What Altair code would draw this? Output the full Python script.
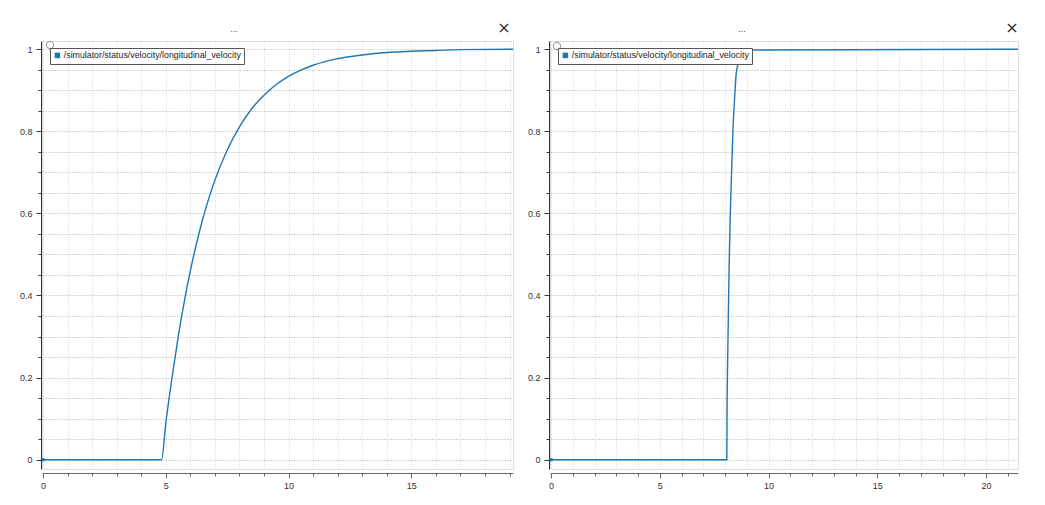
import altair as alt
import pandas as pd

SERIES = "/simulator/status/velocity/longitudinal_velocity"

# Left panel readings
left_t = [0, 4.83, 5.0, 5.25, 5.5, 5.75, 6.0, 6.25, 6.5, 6.75, 7.0, 7.5, 8.0, 8.5, 9.0,
          9.5, 10.0, 10.5, 11.0, 12.0, 13.0, 14.0, 15.0, 16.0, 17.0, 19.2]
left_v = [0, 0, 0.088, 0.198, 0.297, 0.384, 0.460, 0.526, 0.585, 0.636, 0.681, 0.754, 0.811,
          0.855, 0.888, 0.914, 0.934, 0.949, 0.961, 0.977, 0.986, 0.992, 0.995, 0.997, 0.999, 1.0]

# Right panel readings
right_t = [0, 8.08, 8.09, 8.13, 8.18, 8.23, 8.30, 8.36, 8.45, 8.51, 8.60, 8.67, 8.80, 9.13, 21.5]
right_v = [0, 0, 0.10, 0.28, 0.45, 0.58, 0.70, 0.80, 0.89, 0.94, 0.965, 0.98, 0.99, 0.998, 1.0]

left_xdom = [-0.04, 19.14]
right_xdom = [-0.05, 21.47]
ydom = [-0.0227, 1.020]
y_ticks = [round(i * 0.05, 2) for i in range(21)]

FONT = "Liberation Sans"
LINE = "#1f77b4"
MAJOR_Y = "abs(datum.value*5 - round(datum.value*5)) < 1e-6"


def panel(ts, vs, xdom, x_ticks, circ_x, circ_y):
    df = pd.DataFrame({"t": ts, "v": vs, "series": SERIES})
    xscale = alt.Scale(domain=xdom, nice=False, zero=False)
    yscale = alt.Scale(domain=ydom, nice=False, zero=False)
    xaxis = alt.Axis(
        values=x_ticks, title=None, offset=4,
        labelExpr="datum.value % 5 === 0 ? datum.label : ''",
        tickSize={"condition": {"test": "datum.value % 5 === 0", "value": 5}, "value": 3},
        grid=True, gridColor="#d0d0d0", gridDash=[1, 2], gridWidth=1,
        domainColor="#666", tickColor="#666", labelFont=FONT, labelFontSize=9,
        labelColor="#333", labelPadding=3, labelFlush=False, labelOverlap=False,
    )
    yaxis = alt.Axis(
        values=y_ticks, title=None, offset=1, format=".1~f",
        labelExpr=MAJOR_Y + " ? datum.label : ''",
        tickSize={"condition": {"test": MAJOR_Y, "value": 5}, "value": 3},
        grid=True, gridColor="#a8a8a8", gridDash=[1, 2], gridWidth=1,
        domainColor="#333", tickColor="#333", labelFont=FONT, labelFontSize=9,
        labelColor="#333", labelPadding=4, labelOverlap=False, labelFlush=False,
    )
    line = alt.Chart(df).mark_line(color=LINE, strokeWidth=1.4, clip=True,
                                   interpolate="monotone").encode(
        x=alt.X("t:Q", scale=xscale, axis=xaxis),
        y=alt.Y("v:Q", scale=yscale, axis=yaxis),
    )
    marker = alt.Chart(df.iloc[[0]]).mark_square(size=10, opacity=1, clip=True).encode(
        x=alt.X("t:Q", scale=xscale, axis=xaxis),
        y=alt.Y("v:Q", scale=yscale, axis=yaxis),
        color=alt.Color(
            "series:N",
            scale=alt.Scale(domain=[SERIES], range=[LINE]),
            legend=alt.Legend(
                title=None, orient="none", legendX=8, legendY=7,
                symbolType="square", symbolSize=30, symbolStrokeWidth=0,
                labelFont=FONT, labelFontSize=8.8, labelColor="#222", labelOffset=2,
                labelLimit=400,
                padding=3, strokeColor="#555", fillColor="white", cornerRadius=0,
                symbolOpacity=1,
            ),
        ),
    )
    deco = pd.DataFrame({"k": [0]})
    circle = alt.Chart(deco).mark_point(
        shape="circle", size=55, filled=True, fill="white", stroke="#666", strokeWidth=1
    ).encode(x=alt.value(circ_x), y=alt.value(circ_y))
    dots = alt.Chart(deco).mark_text(text="...", fontSize=9, font=FONT, color="#444",
                                     baseline="middle").encode(
        x=alt.value(192), y=alt.value(-12))
    close = alt.Chart(deco).mark_text(text="×", fontSize=16, font="DejaVu Sans", color="#333",
                                      baseline="middle").encode(
        x=alt.value(462), y=alt.value(-13))
    return alt.layer(line, marker, circle, dots, close)


left = panel(left_t, left_v, left_xdom, list(range(0, 20)), 8, 4).properties(width=471, height=428)
right = panel(right_t, right_v, right_xdom, list(range(0, 22)), 7, 5).properties(width=468, height=428)

chart = alt.hconcat(left, right, spacing=37, bounds="flush").resolve_scale(
    color="independent", x="independent"
).resolve_legend(color="independent").properties(
    padding={"left": 10, "top": 11, "right": 5, "bottom": 5},
).configure_view(stroke=None).configure_axis(labelOverlap=False).configure(background="white")

chart.save("out.html", embed_options={"renderer": "svg", "actions": False})
